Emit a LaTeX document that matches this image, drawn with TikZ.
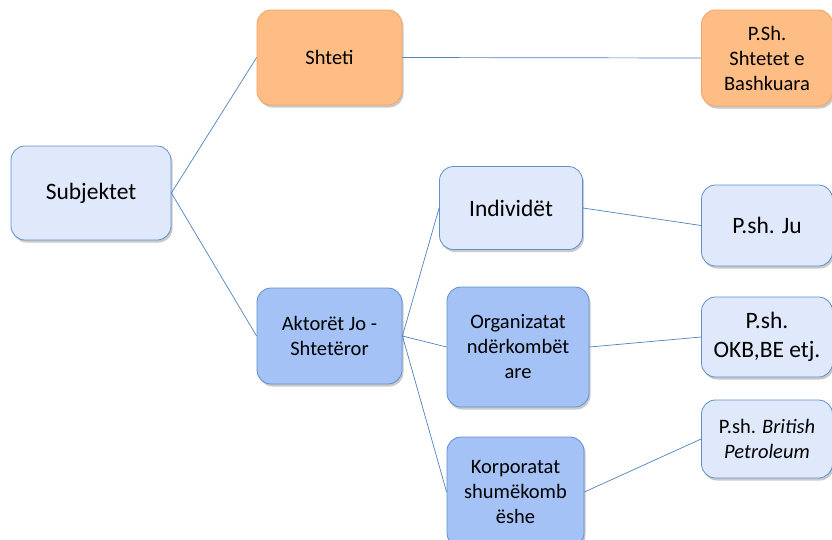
\documentclass[tikz,border=0pt]{standalone}
\usepackage{fontspec}
\setmainfont{Carlito}
\usetikzlibrary{shadows}
\definecolor{lightfill}{HTML}{DFE9FB}
\definecolor{lightdraw}{HTML}{5F8FCF}
\definecolor{midfill}{HTML}{A4C2F6}
\definecolor{middraw}{HTML}{5F8FCF}
\definecolor{orfill}{HTML}{FFBD86}
\definecolor{ordraw}{HTML}{F4A25E}
\definecolor{linkcol}{HTML}{4F81BD}
\tikzset{
  box/.style={rectangle, rounded corners=14pt, line width=0.8pt, align=center,
    inner sep=2pt, font=\fontsize{20.5}{25}\selectfont,
    drop shadow={shadow xshift=1.5pt, shadow yshift=-2.5pt, opacity=0.35, fill=black!60}},
  lightbox/.style={box, fill=lightfill, draw=lightdraw},
  midbox/.style={box, fill=midfill, draw=middraw},
  orbox/.style={box, fill=orfill, draw=ordraw},
  link/.style={draw=linkcol, line width=0.7pt},
  big/.style={font=\fontsize{23.5}{29}\selectfont}
}
\begin{document}
\begin{tikzpicture}[x=1pt,y=-1pt]
\useasboundingbox (0,0) rectangle (832,539);
\node[lightbox, big, minimum width=160pt, minimum height=94pt] (subj) at (91,193) {Subjektet};
\node[orbox, minimum width=145pt, minimum height=95pt] (shteti) at (329.5,57.5) {Shteti};
\node[orbox, minimum width=131pt, minimum height=96pt] (usa) at (767,58) {P.Sh.\\Shtetet e\\Bashkuara};
\node[midbox, minimum width=145pt, minimum height=96pt] (akt) at (329.5,336) {Aktorët Jo -\\Shtetëror};
\node[lightbox, big, minimum width=143pt, minimum height=83pt] (ind) at (511,208) {Individët};
\node[midbox, minimum width=142pt, minimum height=120pt] (org) at (518,347) {Organizatat\\ndërkombët\\are};
\node[midbox, minimum width=137pt, minimum height=110pt] (korp) at (515.5,492) {Korporatat\\shumëkomb\\ëshe};
\node[lightbox, big, minimum width=131pt, minimum height=81pt] (ju) at (767,225.5) {P.sh. Ju};
\node[lightbox, big, minimum width=131pt, minimum height=80pt] (okb) at (767,337) {P.sh.\\OKB,BE etj.};
\node[lightbox, minimum width=131pt, minimum height=78pt] (bp) at (767,439) {P.sh. \textit{British}\\\textit{Petroleum}};
\draw[link] (subj.east) -- (shteti.west);
\draw[link] (subj.east) -- (akt.west);
\draw[link] (shteti.east) -- (usa.west);
\draw[link] (akt.east) -- (ind.west);
\draw[link] (akt.east) -- (org.west);
\draw[link] (akt.east) -- (korp.west);
\draw[link] (ind.east) -- (ju.west);
\draw[link] (org.east) -- (okb.west);
\draw[link] (korp.east) -- (bp.west);
\end{tikzpicture}
\end{document}
